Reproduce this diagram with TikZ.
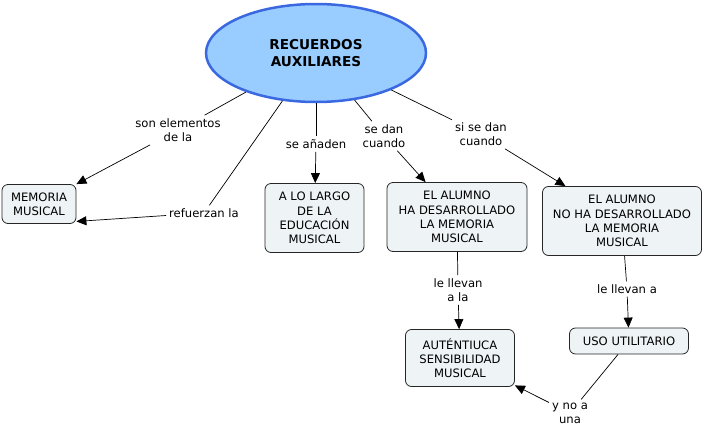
\documentclass[tikz,border=0pt]{standalone}
\usepackage{fontspec}
\setmainfont{DejaVu Sans}
\usetikzlibrary{arrows.meta, shapes.geometric}

\definecolor{ellfill}{RGB}{153,204,255}
\definecolor{elldraw}{RGB}{58,104,224}
\definecolor{boxfill}{RGB}{238,243,246}

\tikzset{
  concept/.style={draw=black!85, fill=boxfill, rounded corners=6pt, align=center,
    font=\fontsize{11.6}{14.3}\selectfont, inner sep=0pt, line width=0.8pt},
  linkphrase/.style={align=center, font=\fontsize{11.6}{14.3}\selectfont, inner sep=3pt},
  link/.style={line width=0.7pt},
  linkarrow/.style={line width=0.7pt, -{Triangle[length=10pt,width=9pt]}}
}

\begin{document}
\begin{tikzpicture}[x=1pt,y=-1pt]
\useasboundingbox (0,0) rectangle (705,429);

\node [ellipse, draw=elldraw, fill=ellfill, line width=2.5pt, minimum width=220pt,
  minimum height=98pt, inner sep=0pt, align=center,
  font=\fontsize{13.6}{17}\selectfont\bfseries] (rec) at (316,53) {RECUERDOS\\ AUXILIARES};

\node [concept, minimum width=74pt, minimum height=39pt] (mem) at (39,204) {MEMORIA\\ MUSICAL};
\node [concept, minimum width=99pt, minimum height=69pt] (largo) at (314.5,218) {A LO LARGO\\ DE LA\\ EDUCACIÓN\\ MUSICAL};
\node [concept, minimum width=140pt, minimum height=69pt] (ha) at (457,217) {EL ALUMNO\\ HA DESARROLLADO\\ LA MEMORIA\\ MUSICAL};
\node [concept, minimum width=159pt, minimum height=69pt] (noha) at (622,221) {EL ALUMNO\\ NO HA DESARROLLADO\\ LA MEMORIA\\ MUSICAL};
\node [concept, minimum width=109pt, minimum height=57pt] (aut) at (460,358) {AUTÉNTIUCA\\ SENSIBILIDAD\\ MUSICAL};
\node [concept, minimum width=119pt, minimum height=26pt] (uso) at (629,341) {USO UTILITARIO};

\node [linkphrase] (son) at (178,130) {son elementos\\ de la};
\node [linkphrase] (ref) at (204,213) {refuerzan la};
\node [linkphrase] (anad) at (316,144) {se añaden};
\node [linkphrase] (dan) at (384,136) {se dan\\ cuando};
\node [linkphrase] (sidan) at (481,134) {si se dan\\ cuando};
\node [linkphrase] (lleva) at (458,290) {le llevan\\ a la};
\node [linkphrase] (llevb) at (627,289) {le llevan a};
\node [linkphrase] (noa) at (570,413) {y no a\\ una};

\draw [link] (rec) -- (son);
\draw [linkarrow] (son) -- (mem);
\draw [link] (rec) -- (ref);
\draw [linkarrow] (ref) -- (mem.-25);
\draw [link] (rec) -- (anad);
\draw [linkarrow] (anad) -- (largo);
\draw [link] (rec) -- (dan);
\draw [linkarrow] (dan) -- (ha);
\draw [link] (rec) -- (sidan);
\draw [linkarrow] (sidan) -- (noha);
\draw [link] (ha) -- (lleva);
\draw [linkarrow] (lleva) -- (aut);
\draw [link] (noha) -- (llevb);
\draw [linkarrow] (llevb) -- (uso);
\draw [link] (uso) -- (noa);
\draw [linkarrow] (noa) -- (aut);

\end{tikzpicture}
\end{document}
